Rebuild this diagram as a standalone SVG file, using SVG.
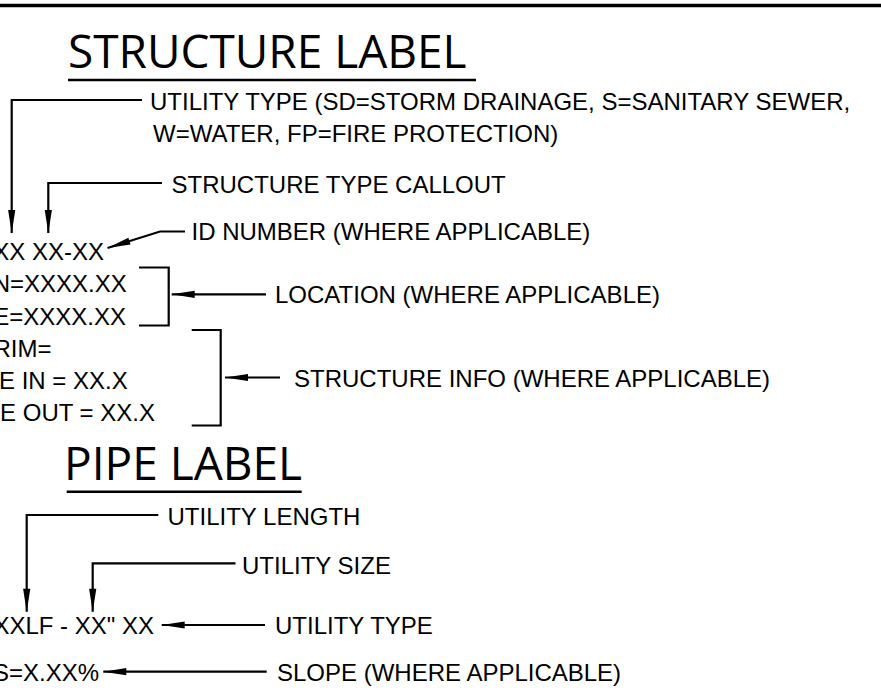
<svg xmlns="http://www.w3.org/2000/svg" width="881" height="697" viewBox="0 0 881 697">
<style>
.t{font-family:"Liberation Sans",Arial,sans-serif;font-size:24px;fill:#000}
.e{text-anchor:end}
.h{font-family:"Open Sans","Noto Sans",sans-serif;font-size:46px;fill:#000}
.c{fill:none;stroke:#000;stroke-width:2.2;stroke-linejoin:miter}
.a{marker-end:url(#arr)}
</style>
<defs>
<marker id="arr" markerUnits="userSpaceOnUse" markerWidth="24" markerHeight="8" refX="23" refY="4" orient="auto" overflow="visible">
<path d="M0,0.4 L23,4 L0,7.6 z" fill="#000"/>
</marker>
</defs>
<rect width="881" height="697" fill="#fff"/>
<line x1="0" y1="5.5" x2="881" y2="5.5" stroke="#000" stroke-width="3.5"/>

<g id="title-structure">
<text class="h" x="68" y="68">STRUCTURE LABEL</text>
<line x1="68" y1="80" x2="476" y2="80" stroke="#000" stroke-width="2.5"/>
</g>
<g id="title-pipe">
<text class="h" x="64" y="480">PIPE LABEL</text>
<line x1="66.7" y1="491.7" x2="301.7" y2="491.7" stroke="#000" stroke-width="2.5"/>
</g>

<g id="structure-label">
<text class="t e" x="104" y="259.5">XX XX-XX</text>
<text class="t e" x="126.7" y="292">N=XXXX.XX</text>
<text class="t e" x="126" y="324.5">E=XXXX.XX</text>
<text class="t e" x="51.5" y="357">RIM=</text>
<text class="t e" x="127.7" y="389">E IN = XX.X</text>
<text class="t e" x="155" y="421">E OUT = XX.X</text>
</g>

<g id="note-utility-type">
<text class="t" x="150" y="110">UTILITY TYPE (SD=STORM DRAINAGE, S=SANITARY SEWER,</text>
<text class="t" x="153" y="142">W=WATER, FP=FIRE PROTECTION)</text>
</g>
<g id="note-structure-type"><text class="t" x="171.5" y="193">STRUCTURE TYPE CALLOUT</text></g>
<g id="note-id"><text class="t" x="191.5" y="240">ID NUMBER (WHERE APPLICABLE)</text></g>
<g id="note-location"><text class="t" x="275" y="303">LOCATION (WHERE APPLICABLE)</text></g>
<g id="note-structure-info"><text class="t" x="294" y="386.5">STRUCTURE INFO (WHERE APPLICABLE)</text></g>

<g id="pipe-label">
<text class="t e" x="154" y="633.5">XXLF - XX" XX</text>
<text class="t e" x="99" y="681">S=X.XX%</text>
</g>
<g id="note-utility-length"><text class="t" x="167.5" y="525">UTILITY LENGTH</text></g>
<g id="note-utility-size"><text class="t" x="242" y="573.5">UTILITY SIZE</text></g>
<g id="note-pipe-utility-type"><text class="t" x="275" y="633.5">UTILITY TYPE</text></g>
<g id="note-slope"><text class="t" x="277" y="681">SLOPE (WHERE APPLICABLE)</text></g>

<g id="connectors">
<path class="c a" d="M142,100 H11.7 V233"/>
<path class="c a" d="M162,183 H48.3 V233"/>
<path class="c a" d="M185,231.5 H160 L107.5,248"/>
<path class="c" d="M139,267.5 H168.7 V325.5 H139"/>
<path class="c a" d="M266,294.3 H171.7"/>
<path class="c" d="M191.7,330 H220.7 V425.5 H191.7"/>
<path class="c a" d="M280,377.5 H225"/>
<path class="c a" d="M158.3,515 H26.7 V611.7"/>
<path class="c a" d="M235.5,563.3 H92.7 V611.7"/>
<path class="c a" d="M265,625 H161.7"/>
<path class="c a" d="M266.7,671.7 H103.3"/>
</g>
</svg>
